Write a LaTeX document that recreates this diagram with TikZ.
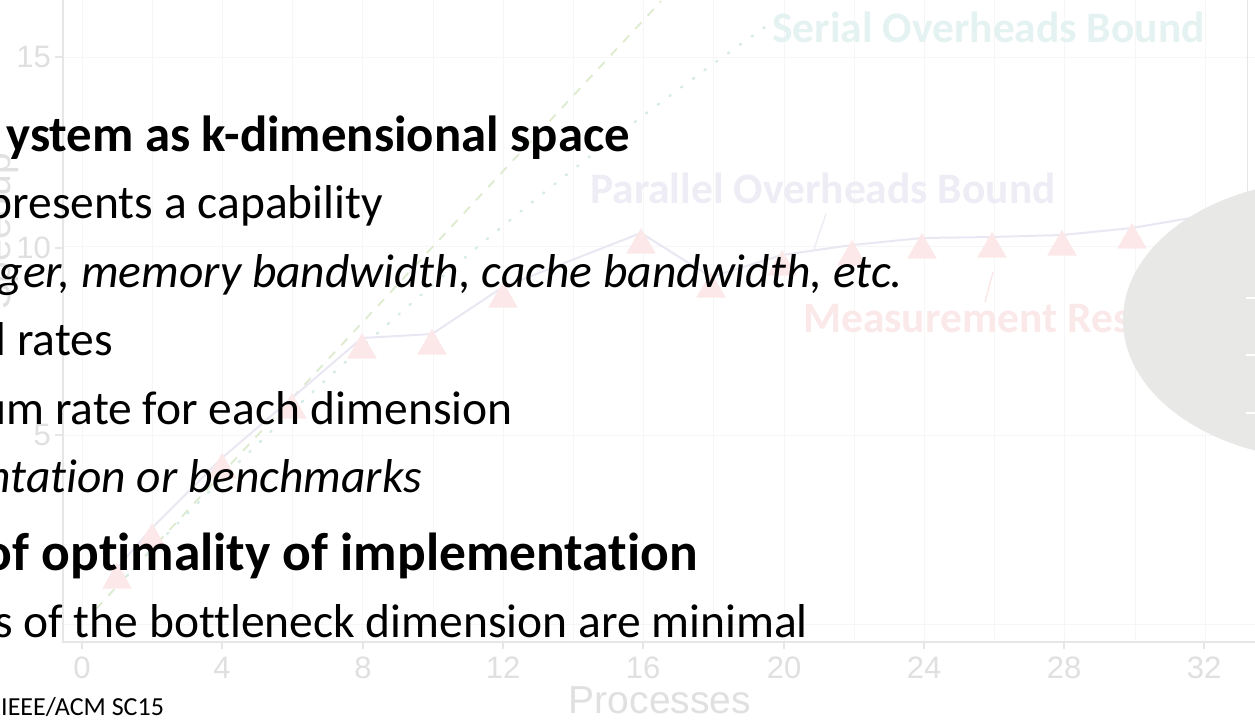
\documentclass[tikz,border=0pt]{standalone}
\usepackage{fontspec}
\setmainfont{Carlito}[Ligatures={NoCommon}]
\newfontfamily\chartfont{Liberation Sans}
\usetikzlibrary{shapes.geometric}
\definecolor{gridc}{HTML}{F6F6F6}
\definecolor{axisc}{HTML}{E6E6E6}
\definecolor{tickc}{HTML}{E0E0E0}
\definecolor{serialc}{HTML}{E4F3F1}
\definecolor{serialdot}{HTML}{D5EBE6}
\definecolor{idealc}{HTML}{DDEBCF}
\definecolor{parc}{HTML}{EEECF5}
\definecolor{measc}{HTML}{FBE8E9}
\definecolor{triac}{HTML}{FCE8E8}
\definecolor{mlinec}{HTML}{EAE7F3}
\definecolor{ellc}{HTML}{E8E8E6}
\tikzset{
  gridline/.style={draw=gridc, line width=0.8pt},
  axisline/.style={draw=axisc, line width=1.5pt},
  ticklab/.style={font=\chartfont\fontsize{31}{31}\selectfont, text=tickc, inner sep=0pt},
  axlab/.style={font=\chartfont\fontsize{39}{39}\selectfont, text=tickc, inner sep=0pt},
  chartlab/.style={font=\bfseries\fontsize{43.5}{43.5}\selectfont, inner sep=0pt, anchor=base west},
  tri/.style={regular polygon, regular polygon sides=3, minimum size=34pt, fill=triac, inner sep=0pt},
  boldtxt/.style={font=\bfseries\fontsize{52}{60}\selectfont, inner sep=0pt, anchor=base east},
  regtxt/.style={font=\fontsize{47.5}{56}\selectfont, inner sep=0pt, anchor=base east},
  ittxt/.style={font=\itshape\fontsize{47.5}{56}\selectfont, inner sep=0pt, anchor=base east},
  foot/.style={font=\fontsize{26}{30}\selectfont, inner sep=0pt, anchor=base west}
}
\begin{document}
\begin{tikzpicture}[x=1pt,y=-1pt]
\useasboundingbox (0,0) rectangle (1255,721);
\fill[white] (0,0) rectangle (1255,721);
% ---- faded chart ----
\begin{scope}[shift={(82,624)}, x=35.1pt, y=37.75pt]
  \foreach \p in {0,2,...,34} {\draw[gridline] (\p,-0.48) -- (\p,16.6);}
  \foreach \s in {0,5,10,15} {\draw[gridline] (-0.55,\s) -- (33.8,\s);}
  % ideal speedup
  \draw[idealc, line width=1.8pt, dash pattern=on 9pt off 9pt] (0.4,0.4) -- (16.5,16.5);
  % serial overheads bound (Amdahl)
  \draw[serialdot, line width=2.4pt, dash pattern=on 1.5pt off 13pt, line cap=round]
     plot[domain=1:19.6, samples=80] (\x,{1/(0.0125+0.9875/\x)});
\end{scope}
% axes
\draw[axisline] (63,0) -- (63,642) -- (1255,642);
\foreach \xx/\lab in {82/0,222/4,363/8,503/12,643/16,784/20,924/24,1064/28,1204/32} {
  \draw[axisline] (\xx,642) -- (\xx,649);
  \node[ticklab] (xl\lab) at (\xx,668) {\lab};
}
\foreach \yy/\lab in {57/15,248/10,435/5} {
  \draw[axisline] (55,\yy) -- (63,\yy);
  \node[ticklab, anchor=east] (yl\lab) at (51,\yy) {\lab};
}
\node[axlab] (xlabel) at (660,700) {Processes};
\node[axlab, rotate=90, anchor=base east] (ylabel) at (10,153) {Speedup};
\draw[axisc, line width=1pt] (1247,0) -- (1247,200);
% measurement results
\draw[mlinec, line width=2pt] (117,568) -- (152,528) -- (222,458) -- (292,398) -- (362,338) -- (432,334) -- (503,287) -- (641,233) -- (711,277) -- (782,255) -- (852,245) -- (922,238) -- (992,237) -- (1062,235) -- (1132,228) -- (1202,216) -- (1255,210);
\foreach \xx/\yy [count=\i] in {117/568,152/528,222/458,292/398,362/338,432/334,503/287,641/233,711/277,782/255,852/245,922/238,992/237,1062/235,1132/228} {
  \node[tri] (m\i) at (\xx,\yy+12) {};
}
% labels
\node[chartlab, text=serialc] (serial) at (772,42) {Serial Overheads Bound};
\node[chartlab, text=parc] (parallel) at (590,203) {Parallel Overheads Bound};
\node[chartlab, text=measc] (meas) at (803,332) {Measurement Res};
\coordinate (pp1) at (826,214);
\coordinate (pp2) at (813,252);
\draw[parc, line width=1.5pt] (pp1) -- (pp2);
\coordinate (mp1) at (993,272);
\coordinate (mp2) at (985,302);
\draw[measc, line width=1.5pt] (mp1) -- (mp2);
% grey ellipse
\fill[ellc] (1330,320) ellipse [x radius=207pt, y radius=140pt];
\foreach \yy in {298,355,413} {\draw[white, line width=2pt] (1246,\yy) -- (1256,\yy);}
% ---- slide text ----
\node[boldtxt, font=\bfseries\fontsize{50.8}{60}\selectfont] (t1) at (630,151) {ystem as k-dimensional space};
\node[regtxt] (t2) at (383,218) {presents a capability};
\node[ittxt] (t3) at (903,287) {ger, memory bandwidth, cache bandwidth, etc.};
\node[regtxt] (t4) at (113,355) {l rates};
\node[regtxt] (t5) at (513,424) {um rate for each dimension};
\node[ittxt] (t6) at (422,492) {ntation or benchmarks};
\node[boldtxt, font=\bfseries\fontsize{53.5}{60}\selectfont] (t7) at (698,570) {of optimality of implementation};
\node[regtxt] (t8) at (808,637) {s of the bottleneck dimension are minimal};
\node[foot] (ft) at (1,715) {IEEE/ACM SC15};
\end{tikzpicture}
\end{document}
